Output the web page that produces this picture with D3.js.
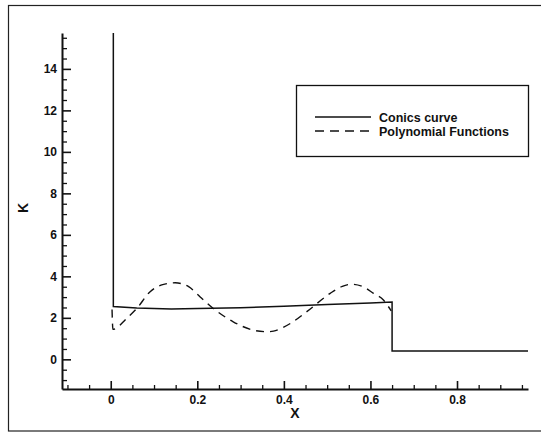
<!DOCTYPE html>
<html>
<head>
<meta charset="utf-8">
<script src="https://cdn.jsdelivr.net/npm/d3@7"></script>
<style>
  html, body { margin: 0; padding: 0; background: #fff; }
  svg { display: block; }
  text { font-family: "Liberation Sans", Arial, Helvetica, sans-serif; font-weight: bold; fill: #111; }
</style>
</head>
<body>
<svg id="chart" width="541" height="433"></svg>
<script>
// Curvature K along X for the two fitting methods
const conicsX = [0.006, 0.006, 0.06, 0.14, 0.2, 0.3, 0.4, 0.5, 0.6, 0.65, 0.65, 0.964];
const conicsK = [15.73, 2.55, 2.48, 2.43, 2.45, 2.49, 2.56, 2.64, 2.72, 2.76, 0.4, 0.4];

const polyX = [0.003, 0.005, 0.037, 0.06, 0.091, 0.12, 0.149, 0.18, 0.206, 0.237, 0.283, 0.329,
               0.361, 0.376, 0.415, 0.453, 0.507, 0.535, 0.557, 0.585, 0.607, 0.63, 0.648];
const polyK = [2.4, 1.45, 1.98, 2.45, 3.26, 3.6, 3.69, 3.5, 3.02, 2.45, 1.81, 1.41,
               1.33, 1.36, 1.73, 2.3, 3.18, 3.52, 3.62, 3.48, 3.18, 2.86, 2.33];

const xTicks = [0, 0.2, 0.4, 0.6, 0.8];
const yTicks = [0, 2, 4, 6, 8, 10, 12, 14];
const seriesNames = ["Conics curve", "Polynomial Functions"];

const svg = d3.select("#chart");

// outer frame
svg.append("rect")
  .attr("x", 8.5).attr("y", 5.5).attr("width", 540).attr("height", 425.5)
  .attr("fill", "none").attr("stroke", "#222").attr("stroke-width", 1.2);

const x = d3.scaleLinear().domain([-0.1126, 0.964]).range([62, 528]);
const y = d3.scaleLinear().domain([-1.43, 15.73]).range([389, 33]);

// minor ticks
const xMinor = d3.range(-0.1, 0.951, 0.05).filter(v => !xTicks.some(t => Math.abs(t - v) < 1e-6));
const yMinor = d3.range(-1, 15.51, 0.5).filter(v => !yTicks.some(t => Math.abs(t - v) < 1e-6));

svg.append("g")
  .attr("transform", "translate(0,389)")
  .call(d3.axisBottom(x).tickValues(xMinor).tickSize(-4).tickSizeOuter(0).tickFormat(""))
  .call(g => g.select(".domain").remove())
  .selectAll("line").attr("stroke", "#111").attr("stroke-width", 1.3);

svg.append("g")
  .attr("transform", "translate(62,0)")
  .call(d3.axisLeft(y).tickValues(yMinor).tickSize(-5).tickSizeOuter(0).tickFormat(""))
  .call(g => g.select(".domain").remove())
  .selectAll("line").attr("stroke", "#111").attr("stroke-width", 1.3);

// major axes
const xAxis = svg.append("g")
  .attr("transform", "translate(0,389)")
  .call(d3.axisBottom(x).tickValues(xTicks).tickSize(-8).tickSizeOuter(0).tickPadding(6)
        .tickFormat(d => d === 0 ? "0" : d3.format(".1f")(d)));
xAxis.select(".domain").attr("stroke", "#111").attr("stroke-width", 2);
xAxis.selectAll("line").attr("stroke", "#111").attr("stroke-width", 1.6);
xAxis.selectAll("text").attr("font-size", 12).attr("font-family", null).attr("fill", "#111");

const yAxis = svg.append("g")
  .attr("transform", "translate(62,0)")
  .call(d3.axisLeft(y).tickValues(yTicks).tickSize(-9).tickSizeOuter(0).tickPadding(5));
yAxis.select(".domain").attr("stroke", "#111").attr("stroke-width", 2);
yAxis.selectAll("line").attr("stroke", "#111").attr("stroke-width", 1.6);
yAxis.selectAll("text").attr("font-size", 12).attr("font-family", null).attr("fill", "#111");

// axis titles
svg.append("text")
  .attr("x", 295).attr("y", 418).attr("text-anchor", "middle")
  .attr("font-size", 14).text("X");
svg.append("text")
  .attr("transform", "translate(28,208) rotate(-90)")
  .attr("text-anchor", "middle").attr("font-size", 14).text("K");

// curves
const conics = conicsX.map((v, i) => [v, conicsK[i]]);
const poly = polyX.map((v, i) => [v, polyK[i]]);

svg.append("path")
  .datum(conics)
  .attr("fill", "none").attr("stroke", "#111").attr("stroke-width", 1.5)
  .attr("d", d3.line().x(d => x(d[0])).y(d => y(d[1])));

svg.append("path")
  .datum(poly)
  .attr("fill", "none").attr("stroke", "#111").attr("stroke-width", 1.4)
  .attr("stroke-dasharray", "8,6")
  .attr("d", d3.line().x(d => x(d[0])).y(d => y(d[1])).curve(d3.curveMonotoneX));

// legend
const lg = svg.append("g");
lg.append("rect")
  .attr("x", 296.5).attr("y", 85.5).attr("width", 232).attr("height", 71)
  .attr("fill", "#fff").attr("stroke", "#111").attr("stroke-width", 1.3);
const rows = [{ y: 117, dash: null }, { y: 131, dash: "9,6" }];
rows.forEach((r, i) => {
  lg.append("line")
    .attr("x1", 315).attr("x2", 371).attr("y1", r.y).attr("y2", r.y)
    .attr("stroke", "#111").attr("stroke-width", 1.4)
    .attr("stroke-dasharray", r.dash);
  lg.append("text")
    .attr("x", 379).attr("y", r.y).attr("dy", "0.36em")
    .attr("font-size", 12.5).text(seriesNames[i]);
});
</script>
</body>
</html>
